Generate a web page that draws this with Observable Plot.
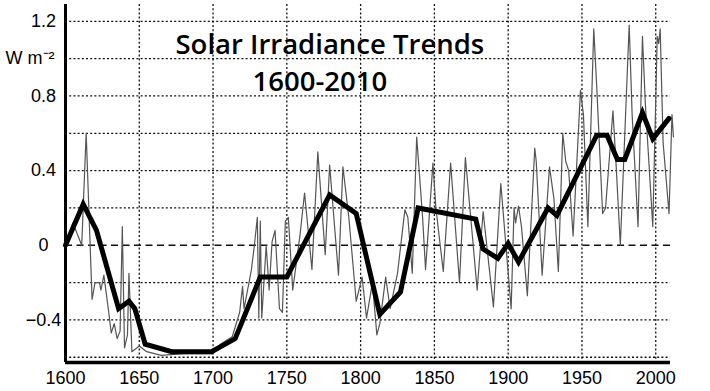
<!DOCTYPE html>
<html>
<head>
<meta charset="utf-8">
<script src="https://cdn.jsdelivr.net/npm/d3@7"></script>
<script src="https://cdn.jsdelivr.net/npm/@observablehq/plot@0.6"></script>
<style>
  html, body { margin: 0; padding: 0; background: #fff; }
  #chart svg { display: block; }
</style>
</head>
<body>
<div id="chart"></div>
<script>
// ---- Data ----
const titleLines = ["Solar Irradiance Trends", "1600-2010"];
const unitLabel = "W m\u207B\u00B2";

// thin annual irradiance curve
const annualYears = [1600,1605,1611,1614,1618,1620,1623,1624,1626,1629,1631,1633,1635,1637,1638.5,1640,1642,1643,1645,1650,1655,1665,1680,1700,
  1705,1713,1718,1720,1721,1726,1728,1730,1731,1732,1733,1736,1738,1740,1742,1745,1747,1749,1751,1754,1759,1762,1767,1771,1776,1779,1785,1788,1792,
  1797,1801,1804,1808,1811,1813,1817,1820,1825,1830,1832,1835,1838,1842,1844,1849,1851,1856,1861,1867,1871,1879,1883,1890,1895,1902,1904,1905,1907,1909,
  1913,1918,1919,1923,1928,1931,1934,1937,1939,1941,1944,1949,1951,1954,1958,1960,1964,1966,1971,1973,1976,1982,1984,1988,1991,1993,1998,2001,2002,2003,2005,2009,2011,2012];
const annualValues = [0.0,0.12,0.0,0.6,-0.29,-0.2,-0.2,-0.24,-0.16,-0.34,-0.47,-0.42,-0.5,-0.46,0.1,-0.55,-0.48,-0.15,-0.57,-0.54,-0.57,-0.59,-0.58,-0.58,
  -0.53,-0.49,-0.36,-0.22,-0.34,-0.13,0.0,0.15,-0.39,0.13,-0.39,0.0,-0.24,0.02,0.08,-0.34,-0.36,0.13,0.15,-0.24,0.06,0.28,-0.13,0.5,-0.05,0.43,-0.16,0.42,0.15,
  -0.3,-0.17,-0.39,-0.2,-0.48,-0.42,-0.17,-0.34,-0.15,0.19,0.15,-0.15,0.58,0.15,-0.13,0.44,0.2,-0.14,0.44,-0.2,0.47,-0.24,0.18,-0.33,0.33,-0.34,0.2,0.12,0.21,0.1,
  -0.27,0.52,0.45,-0.16,0.42,0.25,-0.14,0.6,0.45,0.4,0.05,0.83,0.7,0.1,1.16,0.85,0.17,0.2,0.72,0.45,0.0,1.18,0.7,0.1,1.12,0.75,0.1,1.12,1.08,1.16,0.55,0.17,0.7,0.58];

// thick trend curve
const trendYears = [1600,1612,1621,1636,1643,1647,1654,1672,1699,1715,1732,1750,1779,1797,1813,1827,1839,1878,1883,1893,1900,1907,1927,1933,1960,1967,1974,1979,1991,1998,2009];
const trendValues = [0,0.22,0.08,-0.34,-0.30,-0.34,-0.53,-0.57,-0.57,-0.50,-0.17,-0.17,0.27,0.17,-0.37,-0.25,0.2,0.14,-0.02,-0.07,0.01,-0.09,0.2,0.16,0.59,0.59,0.46,0.46,0.71,0.57,0.68];

// axes
const xDomain = [1600, 2010];
const yDomain = [-0.628, 1.29];
const xTicks = [1600,1650,1700,1750,1800,1850,1900,1950,2000];
const xGrid = [1650,1700,1750,1800,1850,1900,1950,2000];
const yGrid = [-0.6,-0.4,-0.2,0.2,0.4,0.6,0.8,1.0,1.2];
const yZero = [0];
const yTicks = [-0.4,0,0.4,0.8,1.2];
const yUnitTick = [1.0];

const annual = annualYears.map((y, i) => ({year: y, value: annualValues[i]}));
const trend = trendYears.map((y, i) => ({year: y, value: trendValues[i]}));

const chart = Plot.plot({
  width: 710,
  height: 391,
  marginLeft: 65,
  marginRight: 40,
  marginTop: 4,
  marginBottom: 29,
  style: {fontFamily: "'Liberation Sans', Arial, sans-serif", fontSize: "18px", background: "#fff", color: "#000", overflow: "visible"},
  x: {domain: xDomain, label: null},
  y: {domain: yDomain, label: null},
  marks: [
    Plot.ruleY(yGrid, {stroke: "#111", strokeWidth: 1.3, strokeDasharray: "2,2.2"}),
    Plot.ruleX(xGrid, {stroke: "#111", strokeWidth: 1.3, strokeDasharray: "2,2.2"}),
    Plot.ruleY(yZero, {stroke: "#111", strokeWidth: 1.4, strokeDasharray: "7,4.5"}),
    Plot.line(annual, {x: "year", y: "value", stroke: "#555", strokeWidth: 1.2, curve: "linear"}),
    Plot.line(trend, {x: "year", y: "value", stroke: "#000", strokeWidth: 5, strokeLinejoin: "miter", strokeMiterlimit: 3}),
    Plot.ruleX([xDomain[0]], {stroke: "#000", strokeWidth: 3}),
    Plot.ruleY([yDomain[0]], {stroke: "#000", strokeWidth: 3.5}),
    Plot.axisX(xTicks, {tickSize: 0, tickPadding: 9, tickFormat: d => String(d), fontSize: 18, label: null}),
    Plot.axisY(yTicks, {tickSize: 0, tickPadding: 22, textAnchor: "middle", tickFormat: d => d === 0 ? "0" : d3.format(".1f")(d), fontSize: 18, label: null}),
    Plot.axisY(yUnitTick, {tickSize: 0, tickPadding: 11, textAnchor: "end", tickFormat: () => unitLabel, fontSize: 18, label: null}),
    Plot.text([titleLines[0]], {frameAnchor: "top-left", dx: 110, dy: 30, textAnchor: "start", fontSize: 27.5, fontWeight: 600, fontFamily: "'Open Sans', sans-serif", fill: "#000"}),
    Plot.text([titleLines[1]], {frameAnchor: "top-left", dx: 187, dy: 67, textAnchor: "start", fontSize: 27.5, fontWeight: 600, fontFamily: "'Open Sans', sans-serif", fill: "#000"})
  ]
});
document.getElementById("chart").appendChild(chart);
</script>
</body>
</html>
